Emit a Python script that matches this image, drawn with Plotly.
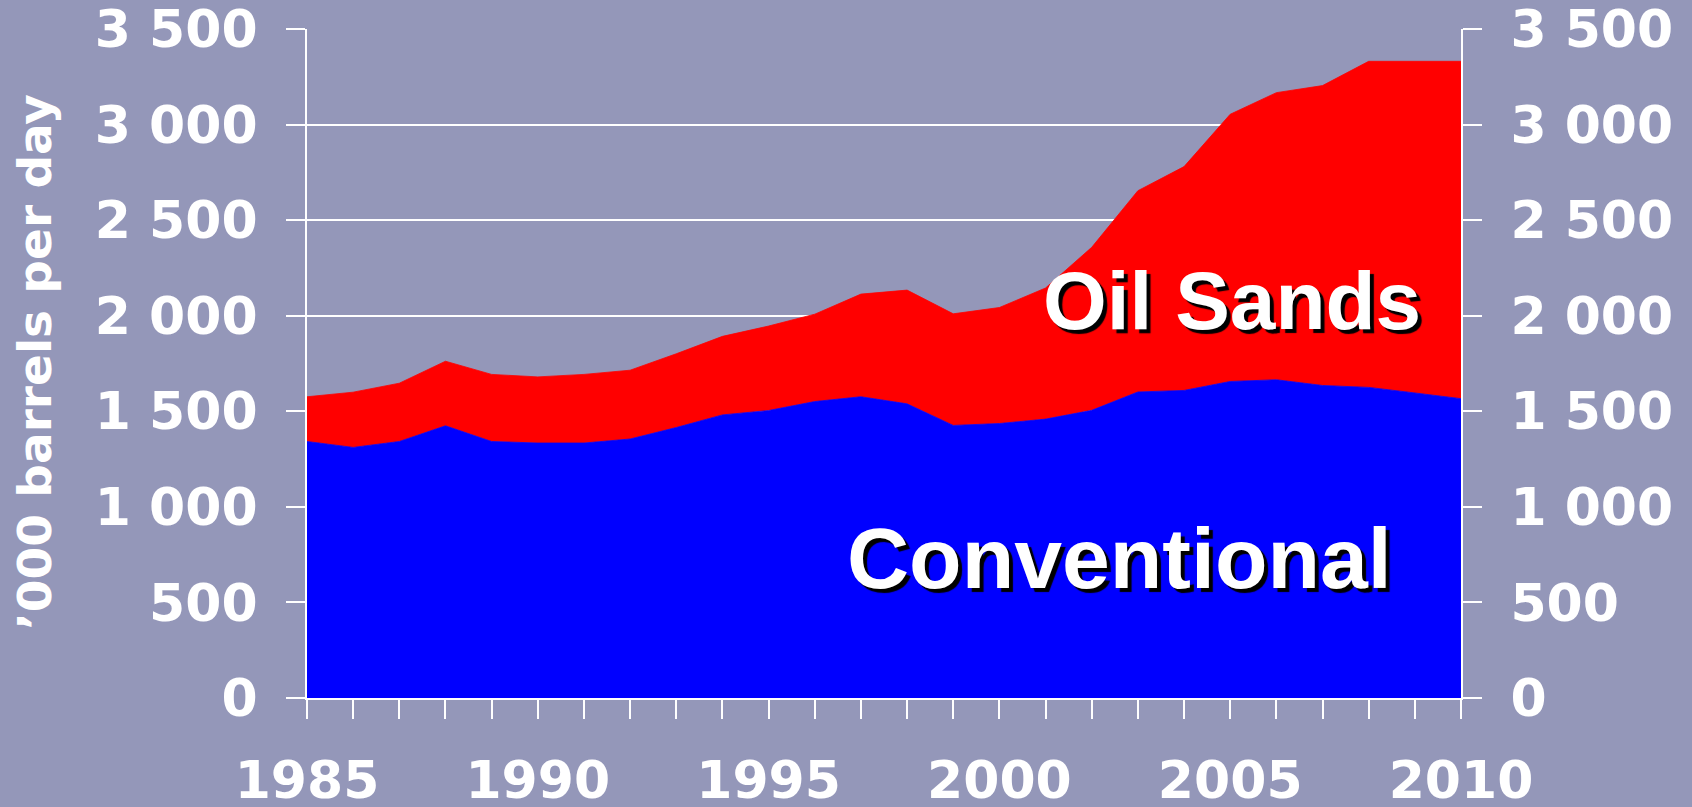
import plotly.graph_objects as go

years = list(range(1985, 2011))
conventional = [1342, 1311, 1342, 1424, 1342, 1334, 1334, 1355, 1415, 1481, 1504, 1551, 1576,
                1539, 1426, 1436, 1459, 1505, 1601, 1609, 1656, 1665, 1635, 1625, 1596, 1566]
oil_sands = [234, 289, 305, 338, 351, 346, 359, 360, 386, 411, 442, 457, 537,
             595, 584, 607, 686, 853, 1053, 1171, 1398, 1502, 1569, 1706, 1735, 1765]
y_tickvals = [0, 500, 1000, 1500, 2000, 2500, 3000, 3500]
y_ticktext = ["0", "500", "1 000", "1 500", "2 000", "2 500", "3 000", "3 500"]
x_tickvals = [1985, 1990, 1995, 2000, 2005, 2010]
x_ticktext = ["1985", "1990", "1995", "2000", "2005", "2010"]
series_names = ["Conventional", "Oil Sands"]
y_title = "\u2019000 barrels per day"

BG = "#9497B9"
tick_font = dict(family="DejaVu Sans", size=52, color="white", weight="bold")

fig = go.Figure()
fig.add_trace(go.Scatter(x=years, y=conventional, name=series_names[0], stackgroup="one",
                         mode="lines", line=dict(color="#0000FF", width=0.8),
                         fillcolor="#0000FF", hoverinfo="x+y"))
fig.add_trace(go.Scatter(x=years, y=oil_sands, name=series_names[1], stackgroup="one",
                         mode="lines", line=dict(color="#FF0000", width=0.8),
                         fillcolor="#FF0000", hoverinfo="x+y"))
# dummy trace so the right-hand axis is drawn
fig.add_trace(go.Scatter(x=[years[0]], y=[0], yaxis="y2", mode="markers",
                         marker=dict(opacity=0), showlegend=False, hoverinfo="skip"))

label_font = dict(family="Liberation Sans, Arial", size=82, color="white", weight="bold",
                  shadow="4px 4px 1px black")
fig.add_annotation(x=2005.04, y=2082, text=series_names[1], showarrow=False,
                   xanchor="center", yanchor="middle", font=label_font)
fig.add_annotation(x=2002.61, y=732, text=series_names[0], showarrow=False,
                   xanchor="center", yanchor="middle",
                   font=dict(label_font, size=86))
fig.add_annotation(xref="paper", yref="paper", x=(34 - 307) / (1461 - 307), y=(698 - 362) / (698 - 29),
                   text=y_title, showarrow=False, textangle=-90,
                   xanchor="center", yanchor="middle",
                   font=dict(family="DejaVu Sans", size=47, color="white", weight="bold"))

common = dict(ticks="outside", ticklen=19, tickwidth=1.5, tickcolor="white",
              showline=True, linecolor="white", linewidth=2, zeroline=False,
              tickfont=tick_font, automargin=False, ticklabeloverflow="allow")

fig.update_layout(
    width=1692, height=807,
    margin=dict(l=307, r=231, t=29, b=109, autoexpand=False),
    paper_bgcolor=BG, plot_bgcolor=BG,
    showlegend=False,
    xaxis=dict(range=[1985, 2010], tickmode="array", tickvals=years,
               ticktext=[x_ticktext[x_tickvals.index(y)] if y in x_tickvals else "" for y in years],
               showgrid=False, ticklabelstandoff=17, **common),
    yaxis=dict(range=[0, 3500], tickvals=y_tickvals, ticktext=y_ticktext,
               showgrid=True, gridcolor="white", gridwidth=1.5,
               ticklabelstandoff=18, **common),
    yaxis2=dict(range=[0, 3500], tickvals=y_tickvals, ticktext=y_ticktext,
                overlaying="y", side="right", showgrid=False,
                ticklabelstandoff=18, **common),
)

fig.write_html("out.html", config={"displayModeBar": False},
               post_script="document.body.style.margin='0';document.body.style.background='%s';" % BG)
